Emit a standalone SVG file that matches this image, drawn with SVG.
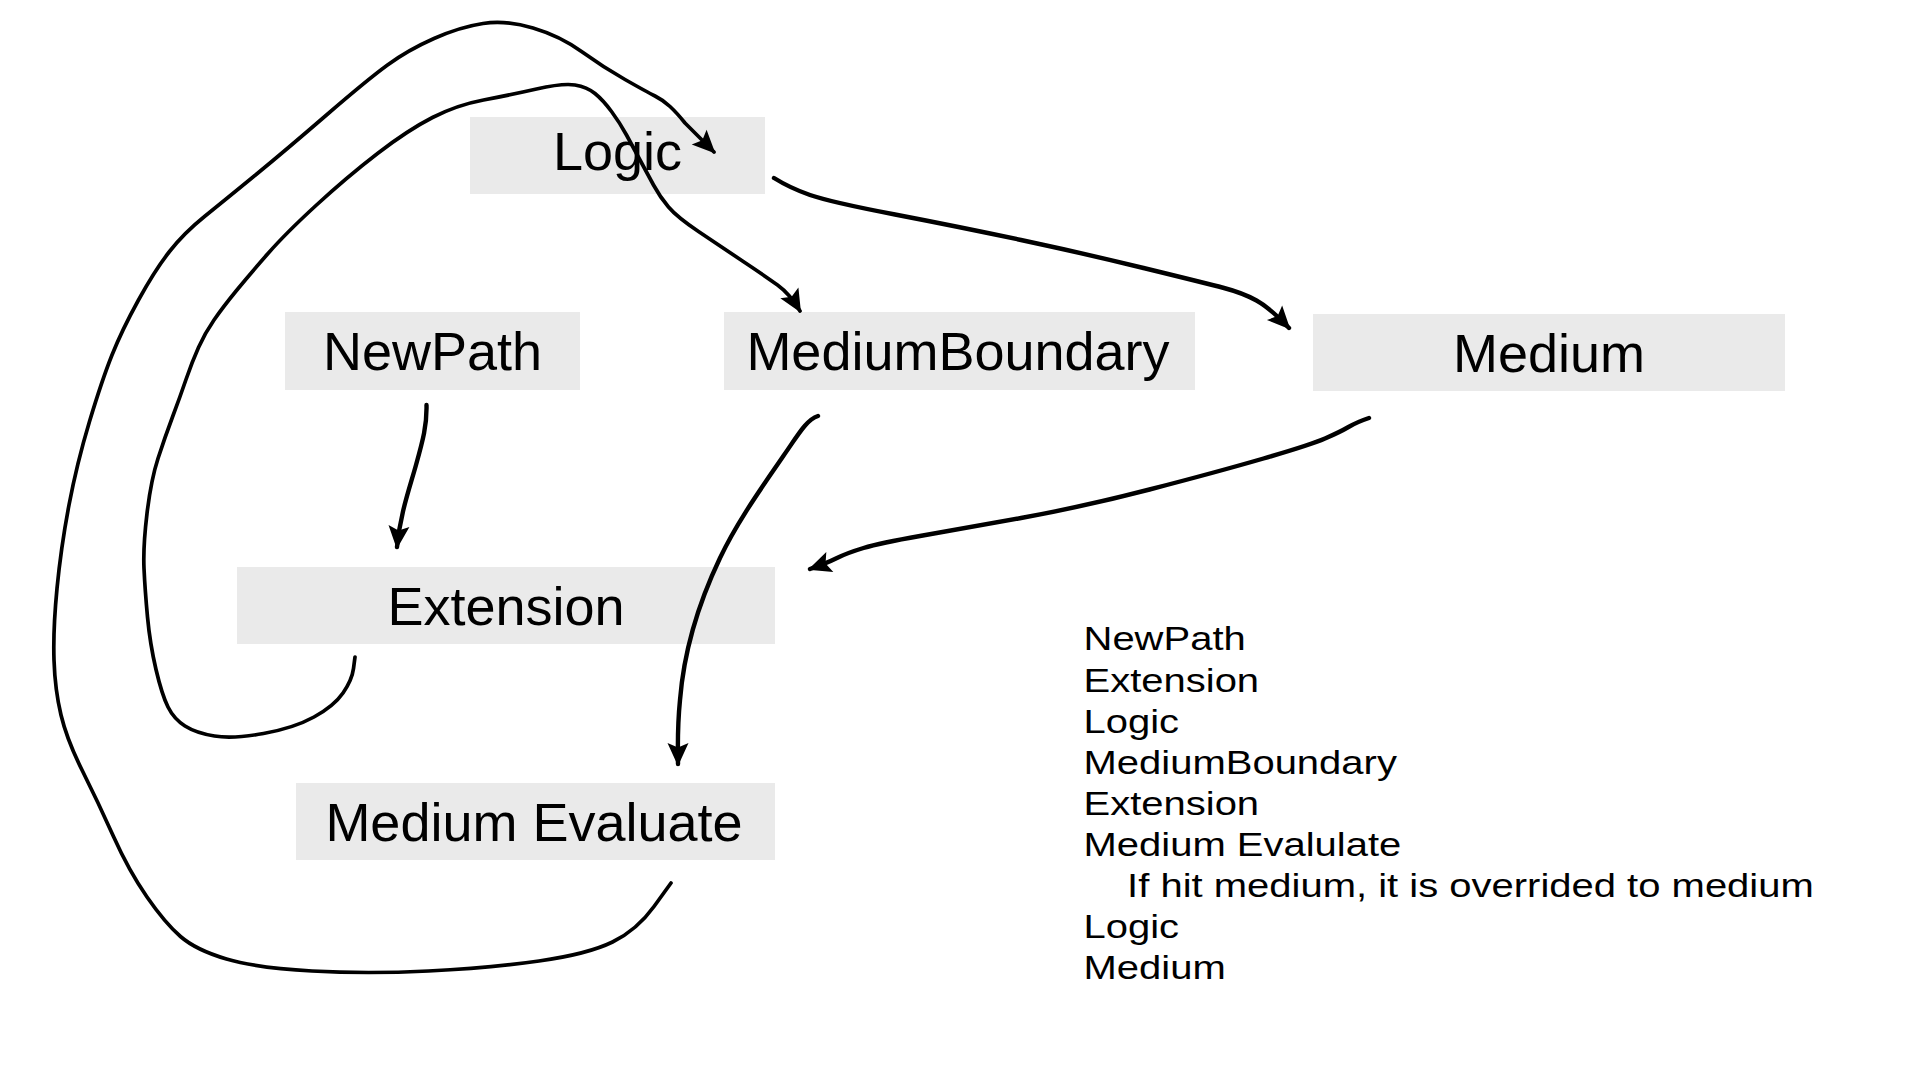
<svg xmlns="http://www.w3.org/2000/svg" width="1920" height="1080" viewBox="0 0 1920 1080">
  <style>
    .box { fill: #EAEAEA; }
    .lbl { font-family: "Liberation Sans", Arial, sans-serif; font-size: 54px; fill: #000; text-anchor: middle; }
    .note { font-family: "Liberation Sans", Arial, sans-serif; font-size: 33px; fill: #000; }
    .edge { fill: none; stroke: #000; stroke-width: 4.4; stroke-linecap: round; stroke-linejoin: round; }
    .loop { stroke-width: 3.7; }
  </style>
  <defs>
    <marker id="arr" markerUnits="userSpaceOnUse" viewBox="-26 -13 30 26" markerWidth="30" markerHeight="26" refX="-2" refY="0" orient="auto">
      <path d="M0,0 L-23,-10.5 L-18.5,0 L-23,10.5 Z" fill="#000"/>
    </marker>
  </defs>
  <rect width="1920" height="1080" fill="#fff"/>

  <g id="node-logic">
    <rect class="box" x="470" y="117" width="295" height="77"/>
    <text class="lbl" x="617.5" y="169.5">Logic</text>
  </g>
  <g id="node-newpath">
    <rect class="box" x="285" y="312" width="295" height="78"/>
    <text class="lbl" x="432.5" y="370">NewPath</text>
  </g>
  <g id="node-mediumboundary">
    <rect class="box" x="724" y="312" width="471" height="78"/>
    <text class="lbl" x="958" y="370">MediumBoundary</text>
  </g>
  <g id="node-medium">
    <rect class="box" x="1313" y="314" width="472" height="77"/>
    <text class="lbl" x="1549" y="372">Medium</text>
  </g>
  <g id="node-extension">
    <rect class="box" x="237" y="567" width="538" height="77"/>
    <text class="lbl" x="506" y="624.5">Extension</text>
  </g>
  <g id="node-mediumevaluate">
    <rect class="box" x="296" y="783" width="479" height="77"/>
    <text class="lbl" x="534" y="840.5">Medium Evaluate</text>
  </g>

  <g id="connectors">
    <path class="edge loop" marker-end="url(#arr)" d="M671,883 L654,906.5 Q637,930 612.5,942 Q588,954 539,961 Q490,968 428.5,971 Q367,974 312,971 Q257,968 226.5,959 Q196,950 180.5,936.5 Q165,923 147,897 Q129,871 113.5,836.5 Q98,802 82.5,771 Q67,740 61,715 Q55,690 54,660 Q53,630 57,588.5 Q61,547 69,505 Q77,463 89.5,421.5 Q102,380 112,355 Q122,330 138.5,300 Q155,270 169.5,251.5 Q184,233 204.5,216.5 Q225,200 255.5,175 Q286,150 326.5,115 Q367,80 387.5,65 Q408,50 434,38.5 Q460,27 483,23.5 Q506,20 533,28 Q560,36 581.5,51.5 Q603,67 625,79.5 Q647,92 655,96 Q663,100 670,106.5 Q677,113 685,123 L714,152"/>
    <path class="edge loop" marker-end="url(#arr)" d="M355,657 L353.5,668.5 Q352,680 343,693 Q334,706 314,717 Q294,728 263.5,733.5 Q233,739 214.5,736 Q196,733 185,726 Q174,719 168,707 Q162,695 156,669.5 Q150,644 147.5,617 Q145,590 144,568.5 Q143,547 147,513.5 Q151,480 158,458.5 Q165,437 172.5,417 Q180,397 186,379.5 Q192,362 198.5,347.5 Q205,333 214,320 Q223,307 236.5,290.5 Q250,274 268,253.5 Q286,233 316.5,205 Q347,177 377.5,153.5 Q408,130 432.5,117.5 Q457,105 483.5,100 Q510,95 536.5,89 Q563,83 575,85 Q587,87 595,93.5 Q603,100 611.5,111.5 Q620,123 626.5,135 Q633,147 640,160 Q647,173 653.5,185 Q660,197 668.5,207 Q677,217 698.5,231.5 Q720,246 742.5,261 Q765,276 777.5,285 Q790,294 800,311"/>
    <path class="edge" marker-end="url(#arr)" d="M774,178 Q790,188 810,195 Q830,202 895,214.5 Q960,227 1021,240 Q1082,253 1143.5,268 Q1205,283 1224,288 Q1243,293 1256.5,300.5 Q1270,308 1289,328"/>
    <path class="edge" marker-end="url(#arr)" d="M818,416 C806,420 798,435 784,455 C765,483 738,520 720,558 C700,600 684,650 680,700 C677,730 678,750 678,764"/>
    <path class="edge" marker-end="url(#arr)" d="M1369,418 Q1357,422 1348.5,427 Q1340,432 1325,438.5 Q1310,445 1263.5,458.5 Q1217,472 1149.5,489.5 Q1082,507 1021,518 Q960,529 920,536 Q880,543 863.5,548 Q847,553 837,558 Q827,563 810,569"/>
    <path class="edge" marker-end="url(#arr)" d="M426.5,405 C427,425 423,440 416,465 C409,490 400,515 397,547"/>
  </g>

  <g id="notes" transform="translate(1083.5,0) scale(1.212,1)">
    <text class="note" x="0" y="650.5">NewPath</text>
    <text class="note" x="0" y="691.6">Extension</text>
    <text class="note" x="0" y="732.7">Logic</text>
    <text class="note" x="0" y="773.8">MediumBoundary</text>
    <text class="note" x="0" y="814.9">Extension</text>
    <text class="note" x="0" y="856">Medium Evalulate</text>
    <text class="note" x="36" y="897.1">If hit medium, it is overrided to medium</text>
    <text class="note" x="0" y="938.2">Logic</text>
    <text class="note" x="0" y="979.3">Medium</text>
  </g>
</svg>
